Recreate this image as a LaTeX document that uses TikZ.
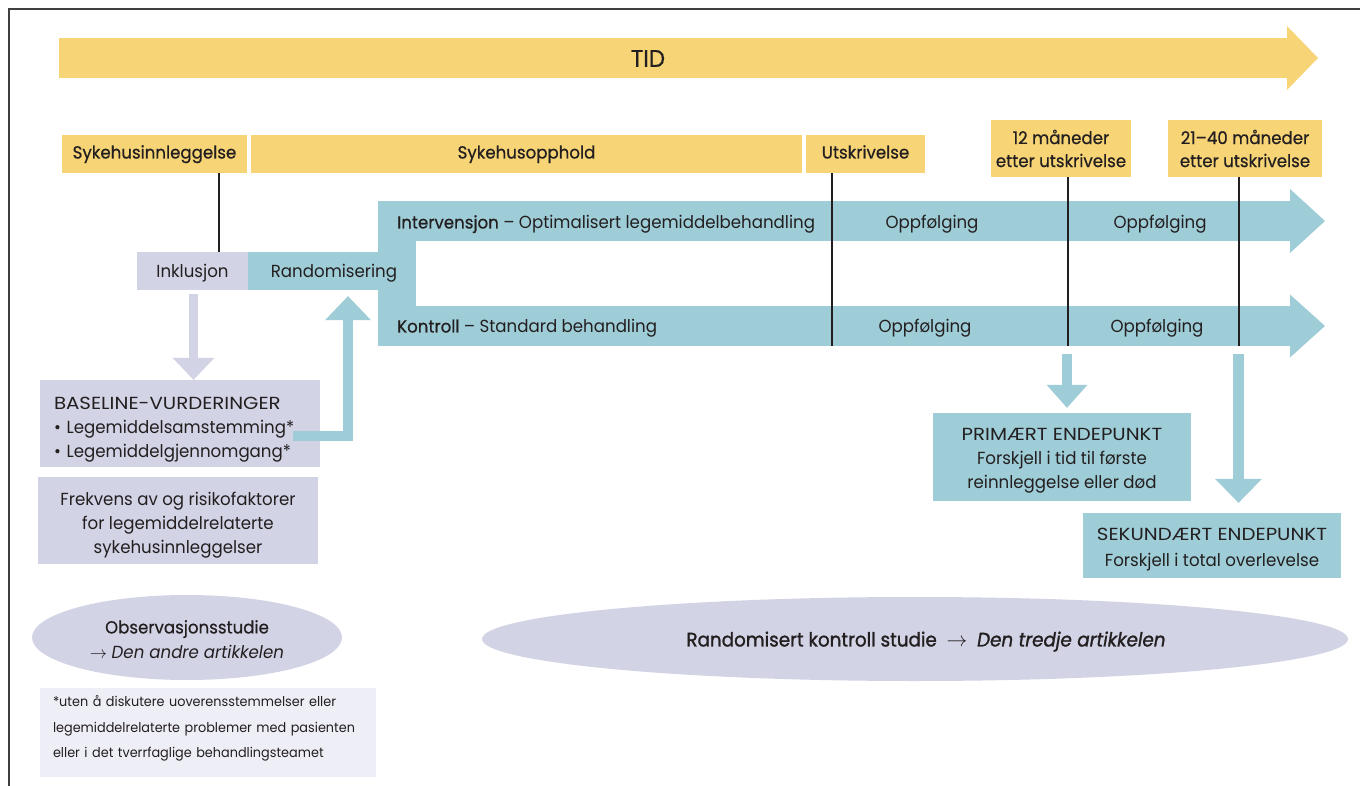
\documentclass[tikz,border=0pt]{standalone}
\usepackage{fontspec}
\setmainfont{Poppins}[FakeStretch=0.95]
\newfontfamily\medfont{Poppins}[FakeStretch=0.95,FakeBold=0.6]
\newfontfamily\capfont{Poppins}[FakeStretch=1.13]
\newfontfamily\rctfont{Poppins}[FakeStretch=0.94,FakeBold=1.3]
\usetikzlibrary{arrows.meta,shapes.geometric,calc}
\definecolor{ylw}{HTML}{F7D475}
\definecolor{tl}{HTML}{9ECDD7}
\definecolor{lav}{HTML}{D3D3E6}
\definecolor{lavl}{HTML}{EEEEF6}
\definecolor{ink}{HTML}{231F20}
\newcommand\hs[2]{\rule[-#1pt]{0pt}{#2pt}}
\begin{document}
\begin{tikzpicture}[x=1pt,y=-1pt,
  every node/.style={text=ink, font=\fontsize{17.5}{24}\selectfont},
  ybox/.style={fill=ylw, inner sep=0pt, align=center, font=\fontsize{17.5}{23}\selectfont\medfont},
  tbox/.style={fill=tl, inner sep=0pt, align=center},
  lbox/.style={fill=lav, inner sep=0pt, align=center},
  oval/.style={ellipse, fill=lav, inner sep=0pt, align=center},
  vline/.style={draw=ink, line width=1.8pt},
  txt/.style={inner sep=0pt},
]
\useasboundingbox (0,0) rectangle (1360,786);
\draw[line width=1.2pt, black!75] (9,786) -- (9,9) -- (1360,9);

% time arrow
\coordinate (tidA) at (59,58);
\coordinate (tidB) at (1318,58);
\draw[ylw, line width=40pt, -{Triangle[width=64pt,length=31pt,line width=0pt]}] (tidA) -- (tidB);
\node[txt, font=\fontsize{24}{28}\selectfont\medfont] (tid) at (648,58.5) {TID};

% yellow labels
\node[ybox, minimum width=185pt, minimum height=38pt] (adm) at (154.5,154) {\hs{5}{19}Sykehusinnleggelse};
\node[ybox, minimum width=551pt, minimum height=38pt] (stay) at (526.5,154) {\hs{5}{19}Sykehusopphold};
\node[ybox, minimum width=119pt, minimum height=38pt] (dis) at (865.5,154) {\hs{5}{19}Utskrivelse};
\node[ybox, minimum width=140pt, minimum height=57pt] (m12) at (1061,148.5) {12 måneder\\etter utskrivelse};
\node[ybox, minimum width=154pt, minimum height=57pt] (m21) at (1245,148.5) {21–40 måneder\\etter utskrivelse};

% fork and treatment arrows
\fill[tl] (378,201) rectangle (416,346);
\coordinate (intA) at (378,221);
\coordinate (intB) at (1325,221);
\coordinate (konA) at (378,326);
\coordinate (konB) at (1325,326);
\draw[tl, line width=40pt, -{Triangle[width=64pt,length=35pt,line width=0pt]}] (intA) -- (intB);
\draw[tl, line width=40pt, -{Triangle[width=63pt,length=35pt,line width=0pt]}] (konA) -- (konB);

\node[lbox, minimum width=111pt, minimum height=38pt] (inkl) at (192.5,271) {\hs{5}{24}Inklusjon};
\node[tbox, minimum width=168pt, minimum height=38pt] (rand) at (332,271) {\hs{5}{24}\hspace*{4pt}Randomisering};

\node[txt, anchor=base west] (intxt) at (397,228.5) {{\medfont Intervensjon} – Optimalisert legemiddelbehandling};
\node[txt, anchor=base] (f1) at (932,228.5) {Oppfølging};
\node[txt, anchor=base] (f2) at (1160,228.5) {Oppfølging};
\node[txt, anchor=base west] (kontxt) at (397,332.5) {{\medfont Kontroll} – Standard behandling};
\node[txt, anchor=base] (f3) at (925,332.5) {Oppfølging};
\node[txt, anchor=base] (f4) at (1157,332.5) {Oppfølging};

% vertical time markers
\coordinate (x1) at (219,0);
\coordinate (x2) at (832,0);
\coordinate (x3) at (1068,0);
\coordinate (x4) at (1239,0);
\coordinate (yb) at (0,346);
\draw[vline] (adm.south -| x1) -- (inkl.north -| x1);
\draw[vline] (dis.south -| x2) -- (yb -| x2);
\draw[vline] (m12.south -| x3) -- (yb -| x3);
\draw[vline] (m21.south -| x4) -- (yb -| x4);

% baseline and frequency boxes
\node[lbox, minimum width=280pt, minimum height=87pt, text width=252pt, align=left] (base) at (180,423.5)
  {\hs{0}{24}{\capfont BASELINE-VURDERINGER}\\• Legemiddelsamstemming*\\• Legemiddelgjennomgang*};
\node[lbox, minimum width=280pt, minimum height=87pt] (freq) at (178,520.5)
  {\hs{0}{22}Frekvens av og risikofaktorer\\for legemiddelrelaterte\\sykehusinnleggelser};

\coordinate (ix) at (193.5,0);
\draw[lav, line width=9pt, -{Triangle[width=42pt,length=22pt,line width=0pt]}] ($(inkl.south -| ix)+(0,4)$) -- (base.north -| ix);
\coordinate (bend) at (348,436);
\draw[tl, line width=10pt, -{Triangle[width=46pt,length=24pt,line width=0pt]}] ($(base.east |- bend)+(-27,0)$) -- (bend) -- ($(rand.south -| bend)+(0,6)$);

% endpoints
\node[tbox, minimum width=258pt, minimum height=88pt] (prim) at (1062,457)
  {\hs{0}{20.5}{\capfont PRIMÆRT ENDEPUNKT}\\Forskjell i tid til første\\reinnleggelse eller død};
\node[tbox, minimum width=258pt, minimum height=65pt, font=\fontsize{17.5}{26}\selectfont] (sek) at (1212,545.5)
  {\hs{0}{20.5}{\capfont SEKUNDÆRT ENDEPUNKT}\\Forskjell i total overlevelse};
\coordinate (p0) at (1067,354);
\coordinate (s0) at (1238.5,354);
\draw[tl, line width=10pt, -{Triangle[width=41pt,length=23pt,line width=0pt]}] (p0) -- ($(prim.north -| p0)+(0,-5)$);
\draw[tl, line width=11pt, -{Triangle[width=47pt,length=24pt,line width=0pt]}] (s0) -- ($(sek.north -| s0)+(0,-10)$);

% study ovals
\node[oval, minimum width=310pt, minimum height=85pt, font=\fontsize{17.5}{25}\selectfont] (obs) at (187,637.5)
  {\hs{0}{17}{\medfont Observasjonsstudie}\\$\rightarrow$ \textit{Den andre artikkelen}};
\node[oval, minimum width=866pt, minimum height=84pt, font=\fontsize{19.5}{22}\selectfont\rctfont] (rct) at (915,639)
  {\hs{4}{24}\hspace*{22pt}Randomisert kontroll studie \ $\rightarrow$ \ \textit{Den tredje artikkelen}};

% footnote
\node[fill=lavl, inner sep=0pt, minimum width=336pt, minimum height=89pt, text width=310pt, align=left,
  font=\fontsize{13.5}{25.5}\selectfont] (note) at (208,732.5)
  {*uten å diskutere uoverensstemmelser eller\\legemiddelrelaterte problemer med pasienten\\eller i det tverrfaglige behandlingsteamet\hs{12}{1}};
\end{tikzpicture}
\end{document}
